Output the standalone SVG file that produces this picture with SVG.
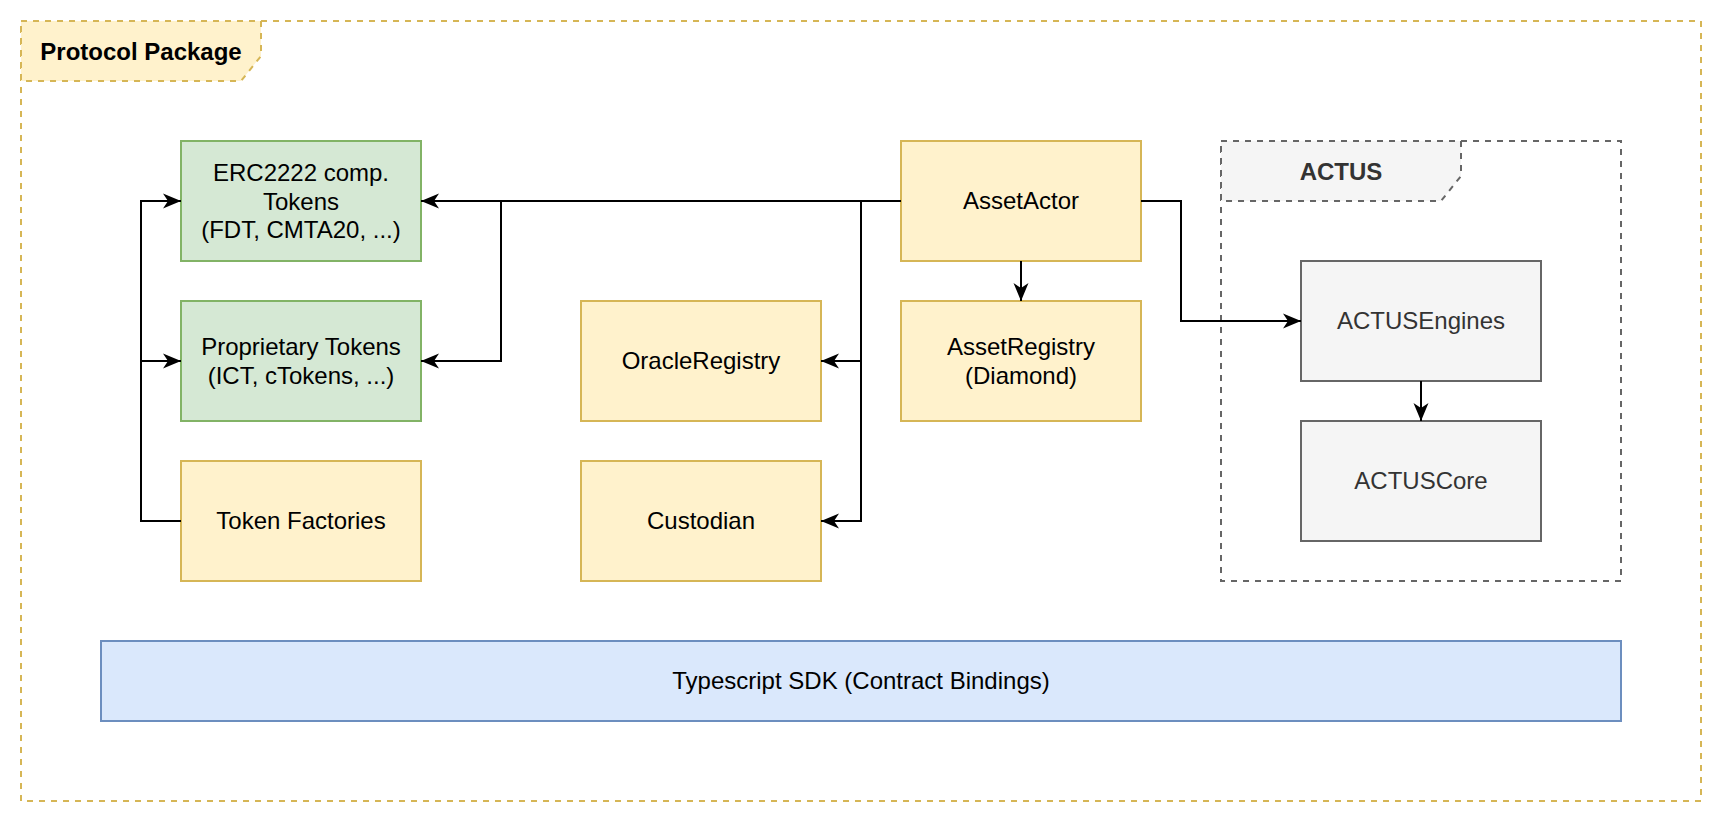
<svg xmlns="http://www.w3.org/2000/svg" width="1722" height="822" viewBox="0 0 1722 822">
<defs>
<marker id="arr" viewBox="-19 -9 20 18" refX="0" refY="0" markerWidth="20" markerHeight="18" markerUnits="userSpaceOnUse" orient="auto">
<path d="M0,0 L-18,-7.5 L-13,0 L-18,7.5 Z" fill="#000000"/>
</marker>
<style>
text{font-family:"Liberation Sans",Arial,Helvetica,sans-serif;font-size:24px;text-anchor:middle;fill:#000000}
.b{font-weight:bold}
.g{fill:#333333}
.y{fill:#fff2cc;stroke:#d6b656;stroke-width:2}
.gr{fill:#d5e8d4;stroke:#82b366;stroke-width:2}
.bl{fill:#dae8fc;stroke:#6c8ebf;stroke-width:2}
.gy{fill:#f5f5f5;stroke:#666666;stroke-width:2}
.dy{stroke:#d6b656;stroke-width:2;stroke-dasharray:6 6}
.dg{stroke:#666666;stroke-width:2;stroke-dasharray:6 6}
.c{fill:none;stroke:#000000;stroke-width:2;marker-end:url(#arr)}
</style>
</defs>
<rect width="1722" height="822" fill="#ffffff"/>

<g id="protocol-package">
<rect x="21" y="21" width="1680" height="780" fill="none" class="dy"/>
<path d="M21,21 H261 V56 L241,81 H21 Z" fill="#fff2cc" class="dy"/>
<text x="141" y="60" class="b">Protocol Package</text>
</g>

<g id="actus">
<rect x="1221" y="141" width="400" height="440" fill="none" class="dg"/>
<path d="M1221,141 H1461 V176 L1441,201 H1221 Z" fill="#f5f5f5" class="dg"/>
<text x="1341" y="180" class="b g">ACTUS</text>
</g>

<g id="erc2222">
<rect x="181" y="141" width="240" height="120" class="gr"/>
<text x="301" y="181">ERC2222 comp.</text>
<text x="301" y="210">Tokens</text>
<text x="301" y="238">(FDT, CMTA20, ...)</text>
</g>

<g id="proprietary">
<rect x="181" y="301" width="240" height="120" class="gr"/>
<text x="301" y="355">Proprietary Tokens</text>
<text x="301" y="384">(ICT, cTokens, ...)</text>
</g>

<g id="token-factories">
<rect x="181" y="461" width="240" height="120" class="y"/>
<text x="301" y="529">Token Factories</text>
</g>

<g id="oracle-registry">
<rect x="581" y="301" width="240" height="120" class="y"/>
<text x="701" y="369">OracleRegistry</text>
</g>

<g id="custodian">
<rect x="581" y="461" width="240" height="120" class="y"/>
<text x="701" y="529">Custodian</text>
</g>

<g id="asset-actor">
<rect x="901" y="141" width="240" height="120" class="y"/>
<text x="1021" y="209">AssetActor</text>
</g>

<g id="asset-registry">
<rect x="901" y="301" width="240" height="120" class="y"/>
<text x="1021" y="355">AssetRegistry</text>
<text x="1021" y="384">(Diamond)</text>
</g>

<g id="actus-engines">
<rect x="1301" y="261" width="240" height="120" class="gy"/>
<text x="1421" y="329" class="g">ACTUSEngines</text>
</g>

<g id="actus-core">
<rect x="1301" y="421" width="240" height="120" class="gy"/>
<text x="1421" y="489" class="g">ACTUSCore</text>
</g>

<g id="typescript-sdk">
<rect x="101" y="641" width="1520" height="80" class="bl"/>
<text x="861" y="689">Typescript SDK (Contract Bindings)</text>
</g>

<g id="connectors">
<path class="c" d="M901,201 H421"/>
<path class="c" d="M901,201 H501 V361 H421"/>
<path class="c" d="M901,201 H861 V361 H821"/>
<path class="c" d="M901,201 H861 V521 H821"/>
<path class="c" d="M1021,261 V301"/>
<path class="c" d="M1141,201 H1181 V321 H1301"/>
<path class="c" d="M1421,381 V421"/>
<path class="c" d="M181,521 H141 V201 H181"/>
<path class="c" d="M181,521 H141 V361 H181"/>
</g>
</svg>
